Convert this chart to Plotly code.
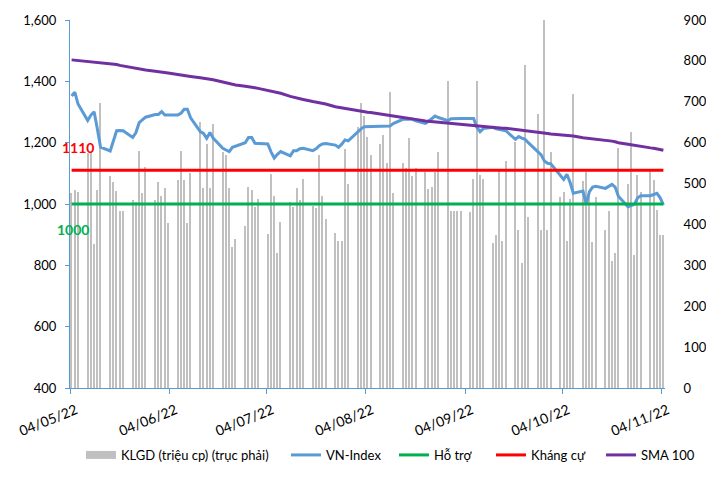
import pandas as pd
import plotly.graph_objects as go

# ---- data ----
dates = pd.bdate_range("2022-05-04", "2022-11-04")  # trading days (133)

volume = [
    478, 484, 480,
    574, 580, 351, 484, 698,
    518, 505, 482, 433, 433,
    460, 455, 580, 476, 540,
    460, 505, 470, 490, 403,
    508, 580, 508, 403, 525,
    651, 488, 597, 488, 645,
    578, 570, 488, 346, 364,
    396, 491, 485, 443, 462,
    377, 523, 470, 331, 407,
    456, 443, 490, 460, 511,
    445, 440, 570, 470, 413,
    380, 360, 360, 584, 499,
    639, 698, 665, 613, 570,
    597, 619, 551, 725, 476,
    551, 537, 611, 518, 537,
    529, 486, 491, 529, 578,
    751, 433, 433, 433, 433,
    430, 510, 751, 521, 510,
    354, 374, 533, 360, 555,
    602, 386, 305, 790, 417,
    669, 386, 900, 386, 578,
    466, 479, 360, 462, 718,
    506, 528, 466, 356, 466,
    386, 433, 311, 329, 586,
    498, 625, 325, 521, 480,
    536, 509, 435, 374, 374,
]

vnindex = [
    1352, 1365, 1326,
    1272, 1290, 1301, 1245, 1185,
    1173, 1210, 1239, 1240, 1239,
    1217, 1233, 1265, 1273, 1283,
    1292, 1292, 1301, 1290, 1290,
    1290, 1296, 1309, 1309, 1281,
    1236, 1230, 1214, 1233, 1215,
    1182, 1176, 1171, 1185, 1189,
    1200, 1217, 1217, 1198, 1198,
    1196, 1170, 1150, 1162, 1171,
    1157, 1174, 1174, 1180, 1182,
    1174, 1180, 1190, 1196, 1197,
    1192, 1185, 1195, 1209, 1206,
    1236, 1245, 1252, 1252, 1253,
    1254, 1254, 1254, 1254, 1262,
    1276, 1276, 1276, 1276, 1271,
    1263, 1270, 1280, 1287, 1282,
    1272, 1278, 1279, 1279, 1279,
    1279, 1279, 1250, 1236, 1246,
    1250, 1245, 1243, 1242, 1239,
    1211, 1220, 1215, 1211, 1200,
    1171, 1160, 1140, 1133, 1131,
    1093, 1080, 1097, 1070, 1035,
    1042, 1000, 1040, 1055, 1058,
    1051, 1058, 1064, 1055, 1025,
    991, 995, 999, 1020, 1027,
    1027, 1030, 1035, 1020, 997,
]

sma100 = [
    1470, 1469, 1469,
    1466, 1465, 1464, 1463, 1462,
    1459, 1457, 1455, 1452, 1450,
    1443, 1442, 1440, 1438, 1437,
    1433, 1432, 1430, 1429, 1427,
    1422, 1421, 1419, 1418, 1416,
    1412, 1411, 1409, 1407, 1405,
    1398, 1396, 1393, 1391, 1388,
    1384, 1383, 1381, 1379, 1377,
    1370, 1368, 1365, 1363, 1361,
    1351, 1349, 1346, 1343, 1341,
    1334, 1332, 1330, 1328, 1326,
    1317, 1315, 1313, 1311, 1309,
    1305, 1303, 1301, 1299, 1298,
    1294, 1292, 1291, 1289, 1287,
    1282, 1281, 1279, 1277, 1276,
    1271, 1270, 1268, 1266, 1265,
    1262, 1261, 1260, 1259, 1258,
    1255, 1254, 1253, 1253, 1252,
    1250, 1249, 1248, 1247, 1247,
    1243, 1243, 1242, 1241, 1240,
    1234, 1233, 1232, 1230, 1228,
    1225, 1224, 1223, 1222, 1222,
    1216, 1215, 1214, 1213, 1212,
    1208, 1207, 1205, 1203, 1200,
    1195, 1193, 1191, 1189, 1188,
    1183, 1182, 1180, 1177, 1175,
]

support_level = 1000
resistance_level = 1110

tick_dates = ["2022-05-04", "2022-06-04", "2022-07-04", "2022-08-04",
              "2022-09-04", "2022-10-04", "2022-11-04"]
tick_labels = ["04/05/22", "04/06/22", "04/07/22", "04/08/22",
               "04/09/22", "04/10/22", "04/11/22"]

# ---- figure ----
FONT = "Lato"
AXIS_BLUE = "#5B9BD5"
BAR_GREY = "#C0C0C0"
DAY_MS = 86400000

fig = go.Figure()

fig.add_trace(go.Bar(
    x=dates, y=volume, name="KLGD (triệu cp) (trục phải)",
    marker=dict(color=BAR_GREY, line=dict(width=0)),
    width=0.42 * DAY_MS, xperiod=DAY_MS, xperiodalignment="middle",
    yaxis="y", showlegend=False, legendgroup="vol",
))
# legend swatch for the volume bars (wide grey rectangle like the original)
fig.add_trace(go.Scatter(
    x=[None], y=[None], mode="lines", name="KLGD (triệu cp) (trục phải)",
    line=dict(color=BAR_GREY, width=8), yaxis="y", legend="legend", legendgroup="vol",
))

line_common = dict(mode="lines", xperiod=DAY_MS, xperiodalignment="middle", yaxis="y2")

fig.add_trace(go.Scatter(x=dates, y=vnindex, name="VN-Index", legend="legend2",
                         line=dict(color="#5B9BD5", width=3), **line_common))
fig.add_trace(go.Scatter(x=dates, y=[support_level] * len(dates), name="Hỗ trợ",
                         legend="legend3",
                         line=dict(color="#00B050", width=3), **line_common))
fig.add_trace(go.Scatter(x=dates, y=[resistance_level] * len(dates), name="Kháng cự",
                         legend="legend4",
                         line=dict(color="#FF0000", width=3), **line_common))
fig.add_trace(go.Scatter(x=dates, y=sma100, name="SMA 100", legend="legend5",
                         line=dict(color="#7030A0", width=3), **line_common))

def legend_at(xpos):
    return dict(orientation="h", x=xpos, xanchor="left", y=-0.182, yanchor="middle",
                font=dict(family=FONT, size=13, color="#000000"),
                bgcolor="rgba(0,0,0,0)", borderwidth=0)

fig.update_layout(
    width=706, height=482,
    margin=dict(l=62, r=49, t=12, b=102, autoexpand=False),
    paper_bgcolor="white", plot_bgcolor="white",
    font=dict(family=FONT, size=13, color="#000000"),
    bargap=0,
    showlegend=True,
    legend=legend_at(0.0185),
    legend2=legend_at(0.363),
    legend3=legend_at(0.5445),
    legend4=legend_at(0.7076),
    legend5=legend_at(0.8924),
    xaxis=dict(
        type="date", range=["2022-05-04", "2022-11-05"],
        tickmode="array", tickvals=tick_dates, ticktext=tick_labels,
        tickangle=-22, tickfont=dict(family=FONT, size=14, color="#000000"),
        ticklabelshift=6, ticklabelstandoff=3,
        showline=True, linecolor=AXIS_BLUE, linewidth=1,
        ticks="outside", ticklen=5, tickcolor=AXIS_BLUE,
        showgrid=False, zeroline=False, automargin=False,
    ),
    yaxis=dict(
        side="right", range=[0, 900], dtick=100, tick0=0,
        showgrid=False, zeroline=False, showline=False,
        ticks="outside", ticklen=15, tickcolor="rgba(0,0,0,0)",
        tickfont=dict(family=FONT, size=13, color="#000000"), automargin=False,
    ),
    yaxis2=dict(
        overlaying="y", side="left", range=[400, 1600], dtick=200, tick0=400,
        tickformat=",", showgrid=False, zeroline=False,
        showline=True, linecolor=AXIS_BLUE, linewidth=1,
        ticks="outside", ticklen=4, tickcolor=AXIS_BLUE,
        ticklabelstandoff=6, automargin=False,
        tickfont=dict(family=FONT, size=13, color="#000000"),
    ),
    annotations=[
        dict(text="<b>%d</b>" % resistance_level, xref="paper", yref="y2", x=0, y=1183,
             xanchor="center", yanchor="middle", xshift=8, showarrow=False,
             font=dict(family=FONT, size=14, color="#FF0000")),
        dict(text="<b>%d</b>" % support_level, xref="paper", yref="y2", x=0, y=918,
             xanchor="center", yanchor="middle", xshift=3, showarrow=False,
             font=dict(family=FONT, size=14, color="#00B050")),
    ],
)

fig.write_html("out.html")
